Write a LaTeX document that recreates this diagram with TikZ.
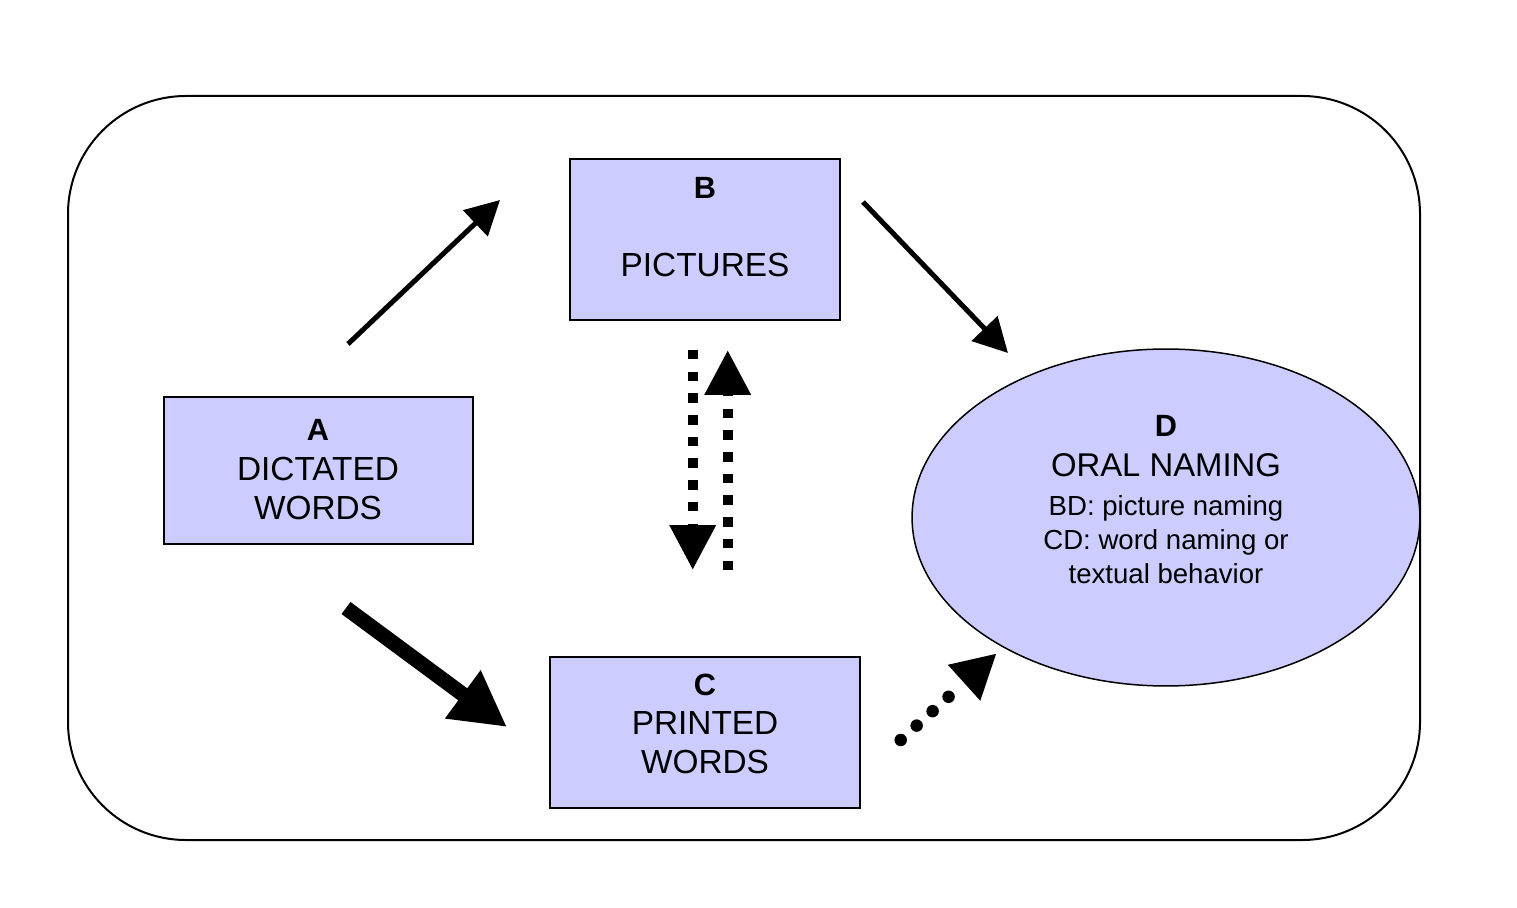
\documentclass[tikz,border=0pt]{standalone}
\usepackage{fontspec}
\setmainfont{Liberation Sans}
\usetikzlibrary{arrows.meta,shapes.geometric}
\definecolor{boxfill}{RGB}{204,204,255}
\begin{document}
\begin{tikzpicture}[x=0.02cm,y=-0.02cm,
  stepbox/.style={draw=black,line width=0.04cm,fill=boxfill,inner sep=0pt},
  letter/.style={anchor=base,inner sep=0pt,font=\fontsize{17.5}{20}\selectfont\bfseries},
  bigtxt/.style={anchor=base,inner sep=0pt,font=\fontsize{19}{22}\selectfont},
  smalltxt/.style={anchor=base,inner sep=0pt,font=\fontsize{15.7}{18}\selectfont},
  solidarrow/.style={line width=0.1cm,-{Triangle[length=0.68cm,width=0.7cm]}},
  thickarrow/.style={line width=0.3cm,-{Triangle[length=1.1cm,width=1.12cm]}},
  squaredots/.style={line width=0.2cm,line cap=butt,dash pattern=on 0.19cm off 0.244cm,-{Triangle[length=0.9cm,width=0.88cm]}},
  rounddots/.style={line width=0.25cm,line cap=round,dash pattern=on 0pt off 0.43cm on 0pt off 0.43cm on 0pt off 0.43cm on 0pt off 4cm,-{Triangle[length=0.88cm,width=0.9cm]}}
]
\useasboundingbox (0,0) rectangle (1517,908);
\fill[white] (0,0) rectangle (1517,908);
% outer frame
\draw[line width=0.04cm,rounded corners=2.36cm] (68,96) rectangle (1420,840);

% boxes
\node[stepbox,minimum width=5.4cm,minimum height=3.22cm] (B) at (705,239.5) {};
\node[stepbox,minimum width=6.18cm,minimum height=2.94cm] (A) at (318.5,470.5) {};
\node[stepbox,minimum width=6.2cm,minimum height=3.02cm] (C) at (705,732.5) {};
\node[stepbox,ellipse,line width=0.03cm,minimum width=10.16cm,minimum height=6.74cm] (D) at (1166,517.5) {};

% texts
\node[letter] (Bl) at (705,199) {B};
\node[bigtxt] (Bt) at (705,277) {PICTURES};
\node[letter] (Al) at (318,440) {A};
\node[bigtxt] (At1) at (318,480) {DICTATED};
\node[bigtxt] (At2) at (318,519) {WORDS};
\node[letter] (Cl) at (705,695) {C};
\node[bigtxt] (Ct1) at (705,734) {PRINTED};
\node[bigtxt] (Ct2) at (705,773) {WORDS};
\node[letter] (Dl) at (1166,437) {D};
\node[bigtxt,font=\fontsize{18.7}{22}\selectfont] (Dt1) at (1166,477) {ORAL NAMING};
\node[smalltxt] (Dt2) at (1166,515) {BD: picture naming};
\node[smalltxt] (Dt3) at (1166,549) {CD: word naming or};
\node[smalltxt] (Dt4) at (1166,583) {textual behavior};

% connector end points
\coordinate (ab1) at (348,344);
\coordinate (ab2) at (500,200);
\coordinate (bd1) at (863,202);
\coordinate (bd2) at (1008,353);
\coordinate (ac1) at (346,608);
\coordinate (ac2) at (507,727);
\coordinate (bc1) at (692.7,350);
\coordinate (bc2) at (692.7,570);
\coordinate (cb1) at (727.7,570);
\coordinate (cb2) at (727.7,350);
\coordinate (cd1) at (900.7,740);
\coordinate (cd2) at (996.7,653.3);

% connectors
\draw[solidarrow] (ab1) -- (ab2);
\draw[solidarrow] (bd1) -- (bd2);
\draw[thickarrow] (ac1) -- (ac2);
\draw[squaredots] (bc1) -- (bc2);
\draw[squaredots] (cb1) -- (cb2);
\draw[rounddots] (cd1) -- (cd2);
\end{tikzpicture}
\end{document}
